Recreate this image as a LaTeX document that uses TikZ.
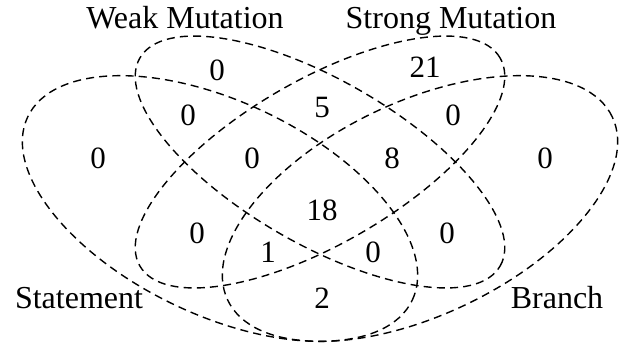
\documentclass[tikz,border=0pt]{standalone}
\usepackage{fontspec}
\setmainfont{Liberation Serif}
\usepackage{tikz}
\usetikzlibrary{positioning}
\tikzset{
    % Venn set outline
    venn set/.style={draw, dashed, dash pattern=on 4pt off 2.6pt, line width=0.7pt},
    % Region count and set name
    count/.style={inner sep=0pt, font=\fontsize{15.5}{18}\selectfont},
    set name/.style={inner sep=0pt, anchor=base, font=\fontsize{16}{19}\selectfont},
}

\begin{document}
\begin{tikzpicture}[x=0.5pt, y=0.5pt]
    \useasboundingbox (0,0) rectangle (630,345);

    % Set centres
    \coordinate (stmt) at (220,136.5);
    \coordinate (brch) at (420,136.5);
    \coordinate (mut) at (320,183);

    % Outer sets
    \draw[venn set, rotate around={-25.5:(stmt)}] (stmt) ellipse [x radius=213, y radius=106.5];
    \draw[venn set, rotate around={25.5:(brch)}] (brch) ellipse [x radius=213, y radius=106.5];

    % Inner sets
    \draw[venn set, rotate around={-30:(mut)}] (mut) ellipse [x radius=208, y radius=82];
    \draw[venn set, rotate around={30:(mut)}] (mut) ellipse [x radius=208, y radius=82];

    % Set names
    \node[set name] (weak) at (185,317) {Weak Mutation};
    \node[set name] (strong) at (451,317) {Strong Mutation};
    \node[set name] (statement) at (79,37) {Statement};
    \node[set name] (branch) at (557,37) {Branch};

    % Region counts
    \node[count] (w) at (217,275) {0};
    \node[count] (s) at (425,278) {21};
    \node[count] (tw) at (188,230) {0};
    \node[count] (ws) at (322,238) {5};
    \node[count] (sb) at (453,230) {0};
    \node[count] (t) at (98,187) {0};
    \node[count] (tws) at (252,187) {0};
    \node[count] (wsb) at (392,187) {8};
    \node[count] (b) at (545,187) {0};
    \node[count] (all) at (322,135) {18};
    \node[count] (ts) at (197,112) {0};
    \node[count] (wb) at (447,112) {0};
    \node[count] (tsb) at (268,93) {1};
    \node[count] (twb) at (373,93) {0};
    \node[count] (tb) at (322,47) {2};
\end{tikzpicture}
\end{document}
